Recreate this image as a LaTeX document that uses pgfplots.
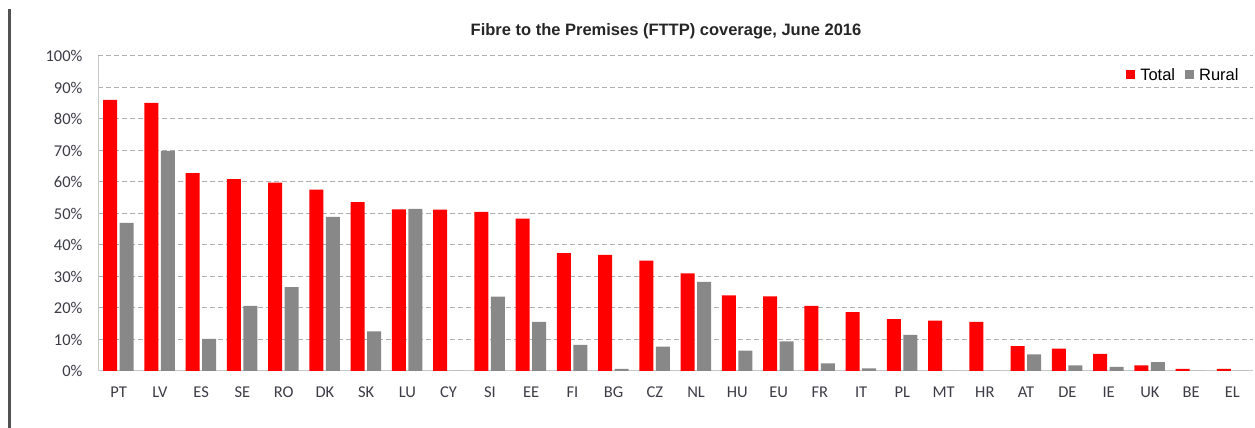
\documentclass[border=0pt]{standalone}
\usepackage{pgfplots}
\pgfplotsset{compat=1.18}
\usepackage{fontspec}
\setmainfont{Liberation Sans}
\newfontfamily\carlito{Carlito}
\definecolor{barred}{RGB}{255,0,0}
\definecolor{bargray}{RGB}{136,136,136}
\definecolor{gridc}{RGB}{175,175,175}
\definecolor{axc}{RGB}{200,200,200}
\definecolor{tickc}{RGB}{60,60,70}
\begin{document}
\begin{tikzpicture}[x=1pt,y=1pt]
\useasboundingbox (0,0) rectangle (1255,428);
\fill[black!68] (7.5,0) rectangle (10.5,419);
\node[font=\bfseries\fontsize{16.5}{18}\selectfont, text=black!85] at (666,397) {Fibre to the Premises (FTTP) coverage, June 2016};
\begin{axis}[
  at={(98pt,57pt)}, anchor=south west,
  scale only axis, width=1155pt, height=315pt,
  xmin=-0.5, xmax=27.5, ymin=0, ymax=100,
  axis x line*=bottom, axis y line*=left,
  axis line style={axc, line width=1pt, -},
  xtick={0,...,27},
  xticklabels={PT,LV,ES,SE,RO,DK,SK,LU,CY,SI,EE,FI,BG,CZ,NL,HU,EU,FR,IT,PL,MT,HR,AT,DE,IE,UK,BE,EL},
  ytick={0,10,...,100},
  yticklabel={\pgfmathparse{int(\tick)}\pgfmathresult\%},
  major tick length=0pt,
  ticklabel style={font=\carlito\fontsize{16.5}{18}\selectfont, text=tickc},
  xticklabel style={yshift=-12pt},
  yticklabel style={xshift=-12pt},
  ymajorgrids,
  major grid style={gridc, line width=1pt, dash pattern=on 5pt off 3pt},
  ybar, bar width=14pt,
  legend style={at={(0.992,0.94)}, anchor=east, draw=none, fill=none,
    font=\fontsize{16.5}{18}\selectfont, column sep=3pt,
    /tikz/every even column/.append style={column sep=8pt}},
  legend columns=2,
  legend image code/.code={\path[#1,draw=none] (0pt,-4.5pt) rectangle (9pt,4.5pt);},
]
\addplot[fill=barred, draw=none, bar shift=-8.5pt] coordinates {
(0,86.1) (1,85.1) (2,62.8) (3,60.9) (4,59.8) (5,57.6) (6,53.6) (7,51.3) (8,51.2) (9,50.5)
(10,48.4) (11,37.4) (12,36.9) (13,35.0) (14,31.0) (15,24.0) (16,23.7) (17,20.7) (18,18.7) (19,16.5)
(20,16.0) (21,15.6) (22,7.9) (23,7.1) (24,5.4) (25,1.8) (26,0.7) (27,0.7)};
\addplot[fill=bargray, draw=none, bar shift=8pt] coordinates {
(0,47.0) (1,69.9) (2,10.2) (3,20.7) (4,26.6) (5,48.9) (6,12.6) (7,51.5) (8,0) (9,23.6)
(10,15.6) (11,8.3) (12,0.7) (13,7.7) (14,28.3) (15,6.5) (16,9.4) (17,2.4) (18,0.8) (19,11.5)
(20,0) (21,0) (22,5.3) (23,1.8) (24,1.3) (25,2.8) (26,0) (27,0)};
\legend{Total, Rural}
\end{axis}
\end{tikzpicture}
\end{document}
